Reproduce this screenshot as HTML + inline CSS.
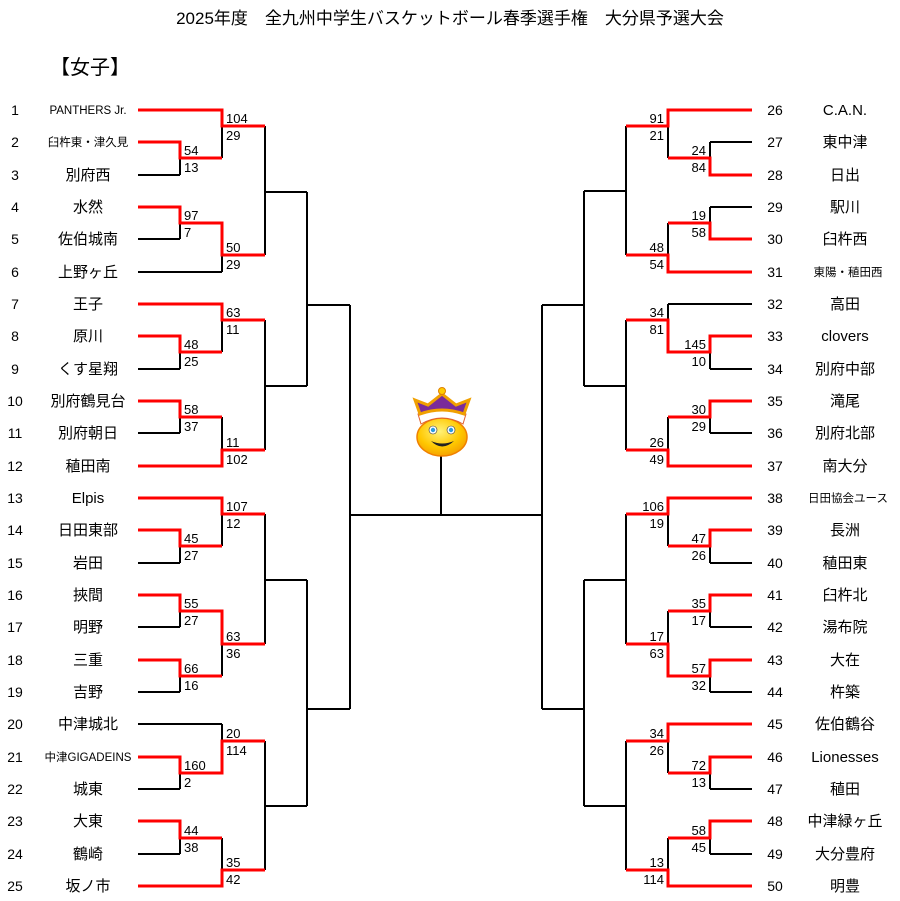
<!DOCTYPE html>
<html><head><meta charset="utf-8"><style>
html,body{margin:0;padding:0;background:#fff;}
svg{display:block;font-family:"Liberation Sans","Noto Sans CJK JP",sans-serif;}
.n{font-size:14px;text-anchor:middle;}
.t{font-size:15px;text-anchor:middle;}
.s{font-size:11.5px;text-anchor:middle;}
.l{font-size:13px;}
.r{font-size:13px;text-anchor:end;}
</style></head><body>
<svg width="900" height="901" viewBox="0 0 900 901">
<text x="450" y="24" font-size="17" text-anchor="middle">2025年度　全九州中学生バスケットボール春季選手権　大分県予選大会</text>
<text x="50" y="74" font-size="20">【女子】</text>

<g fill="none" stroke="#000" stroke-width="2">
<path d="M180 142V175M222 110V158M180 207V239M222 223V272M265 126V255M265 192H307M180 336V369M222 304V352M180 401V433M222 417V466M265 320V450M265 386H307M307 192V386M307 305H350M180 530V563M222 498V546M180 595V627M180 660V692M222 611V676M265 514V644M265 580H307M180 757V789M222 724V773M180 821V854M222 838V886M265 741V870M265 806H307M307 580V806M307 709H350M350 305V709M350 515H542M542 305V709M441 455V515"/>
<path d="M138 175H180M138 239H180M138 272H222M138 369H180M138 433H180M138 563H180M138 627H180M138 692H180M138 724H222M138 789H180M138 854H180"/>
<path d="M710 142V175M668 110V158M710 207V239M668 223V272M626 126V255M626 191H584M710 336V369M668 304V352M710 401V433M668 417V466M626 320V450M626 386H584M584 191V386M584 305H542M710 530V563M668 498V546M710 595V627M710 660V692M668 611V676M626 514V644M626 580H584M710 757V789M668 724V773M710 821V854M668 838V886M626 741V870M626 806H584M584 580V806M584 709H542"/>
<path d="M752 142H710M752 207H710M752 304H668M752 369H710M752 433H710M752 563H710M752 627H710M752 692H710M752 789H710M752 854H710"/>
</g>
<g fill="none" stroke="#f00" stroke-width="3">
<path d="M138 110H222V126H265M138 142H180V158H222M138 207H180V223H222V255H265M138 304H222V320H265M138 336H180V352H222M138 401H180V417H222M138 466H222V450H265M138 498H222V514H265M138 530H180V546H222M138 595H180V611H222V644H265M138 660H180V676H222M138 757H180V773H222V741H265M138 821H180V838H222M138 886H222V870H265"/>
<path d="M752 110H668V126H626M752 175H710V158H668M752 239H710V223H668M752 272H668V255H626M752 336H710V352H668V320H626M752 401H710V417H668M752 466H668V450H626M752 498H668V514H626M752 530H710V546H668M752 595H710V611H668M752 660H710V676H668V644H626M752 724H668V741H626M752 757H710V773H668M752 821H710V838H668M752 886H668V870H626"/>
</g>

<g class="l">
<text x="184" y="155">54</text><text x="184" y="172">13</text>
<text x="226" y="123">104</text><text x="226" y="140">29</text>
<text x="184" y="220">97</text><text x="184" y="237">7</text>
<text x="226" y="252">50</text><text x="226" y="269">29</text>
<text x="184" y="349">48</text><text x="184" y="366">25</text>
<text x="226" y="317">63</text><text x="226" y="334">11</text>
<text x="184" y="414">58</text><text x="184" y="431">37</text>
<text x="226" y="447">11</text><text x="226" y="464">102</text>
<text x="184" y="543">45</text><text x="184" y="560">27</text>
<text x="226" y="511">107</text><text x="226" y="528">12</text>
<text x="184" y="608">55</text><text x="184" y="625">27</text>
<text x="184" y="673">66</text><text x="184" y="690">16</text>
<text x="226" y="641">63</text><text x="226" y="658">36</text>
<text x="184" y="770">160</text><text x="184" y="787">2</text>
<text x="226" y="738">20</text><text x="226" y="755">114</text>
<text x="184" y="835">44</text><text x="184" y="852">38</text>
<text x="226" y="867">35</text><text x="226" y="884">42</text>
</g>
<g class="r">
<text x="706" y="155">24</text><text x="706" y="172">84</text>
<text x="664" y="123">91</text><text x="664" y="140">21</text>
<text x="706" y="220">19</text><text x="706" y="237">58</text>
<text x="664" y="252">48</text><text x="664" y="269">54</text>
<text x="706" y="349">145</text><text x="706" y="366">10</text>
<text x="664" y="317">34</text><text x="664" y="334">81</text>
<text x="706" y="414">30</text><text x="706" y="431">29</text>
<text x="664" y="447">26</text><text x="664" y="464">49</text>
<text x="706" y="543">47</text><text x="706" y="560">26</text>
<text x="664" y="511">106</text><text x="664" y="528">19</text>
<text x="706" y="608">35</text><text x="706" y="625">17</text>
<text x="706" y="673">57</text><text x="706" y="690">32</text>
<text x="664" y="641">17</text><text x="664" y="658">63</text>
<text x="706" y="770">72</text><text x="706" y="787">13</text>
<text x="664" y="738">34</text><text x="664" y="755">26</text>
<text x="706" y="835">58</text><text x="706" y="852">45</text>
<text x="664" y="867">13</text><text x="664" y="884">114</text>
</g>

<g class="n">
<text x="15" y="115">1</text><text x="15" y="147">2</text><text x="15" y="180">3</text><text x="15" y="212">4</text><text x="15" y="244">5</text><text x="15" y="277">6</text><text x="15" y="309">7</text><text x="15" y="341">8</text><text x="15" y="374">9</text><text x="15" y="406">10</text><text x="15" y="438">11</text><text x="15" y="471">12</text><text x="15" y="503">13</text><text x="15" y="535">14</text><text x="15" y="568">15</text><text x="15" y="600">16</text><text x="15" y="632">17</text><text x="15" y="665">18</text><text x="15" y="697">19</text><text x="15" y="729">20</text><text x="15" y="762">21</text><text x="15" y="794">22</text><text x="15" y="826">23</text><text x="15" y="859">24</text><text x="15" y="891">25</text>
<text x="775" y="115">26</text><text x="775" y="147">27</text><text x="775" y="180">28</text><text x="775" y="212">29</text><text x="775" y="244">30</text><text x="775" y="277">31</text><text x="775" y="309">32</text><text x="775" y="341">33</text><text x="775" y="374">34</text><text x="775" y="406">35</text><text x="775" y="438">36</text><text x="775" y="471">37</text><text x="775" y="503">38</text><text x="775" y="535">39</text><text x="775" y="568">40</text><text x="775" y="600">41</text><text x="775" y="632">42</text><text x="775" y="665">43</text><text x="775" y="697">44</text><text x="775" y="729">45</text><text x="775" y="762">46</text><text x="775" y="794">47</text><text x="775" y="826">48</text><text x="775" y="859">49</text><text x="775" y="891">50</text>
</g>
<g class="t">
<text class="s" x="88" y="114">PANTHERS Jr.</text>
<text class="s" x="88" y="146">臼杵東・津久見</text>
<text x="88" y="180">別府西</text><text x="88" y="212">水然</text><text x="88" y="244">佐伯城南</text><text x="88" y="277">上野ヶ丘</text>
<text x="88" y="309">王子</text><text x="88" y="341">原川</text><text x="88" y="374">くす星翔</text><text x="88" y="406">別府鶴見台</text><text x="88" y="438">別府朝日</text><text x="88" y="471">稙田南</text>
<text x="88" y="503">Elpis</text><text x="88" y="535">日田東部</text><text x="88" y="568">岩田</text><text x="88" y="600">挾間</text><text x="88" y="632">明野</text><text x="88" y="665">三重</text><text x="88" y="697">吉野</text>
<text x="88" y="729">中津城北</text><text class="s" x="88" y="761">中津GIGADEINS</text><text x="88" y="794">城東</text><text x="88" y="826">大東</text><text x="88" y="859">鶴崎</text><text x="88" y="891">坂ノ市</text>
<text x="845" y="115">C.A.N.</text><text x="845" y="147">東中津</text><text x="845" y="180">日出</text><text x="845" y="212">駅川</text><text x="845" y="244">臼杵西</text><text class="s" x="848" y="276">東陽・稙田西</text>
<text x="845" y="309">高田</text><text x="845" y="341">clovers</text><text x="845" y="374">別府中部</text><text x="845" y="406">滝尾</text><text x="845" y="438">別府北部</text><text x="845" y="471">南大分</text>
<text class="s" x="848" y="502">日田協会ユース</text><text x="845" y="535">長洲</text><text x="845" y="568">稙田東</text><text x="845" y="600">臼杵北</text><text x="845" y="632">湯布院</text><text x="845" y="665">大在</text><text x="845" y="697">杵築</text>
<text x="845" y="729">佐伯鶴谷</text><text x="845" y="762">Lionesses</text><text x="845" y="794">稙田</text><text x="845" y="826">中津緑ヶ丘</text><text x="845" y="859">大分豊府</text><text x="845" y="891">明豊</text>
</g>

<defs><radialGradient id="fg" cx="0.45" cy="0.35" r="0.7"><stop offset="0" stop-color="#fff27a"/><stop offset="0.6" stop-color="#ffc800"/><stop offset="1" stop-color="#f39a00"/></radialGradient></defs>
<ellipse cx="442" cy="437" rx="25" ry="19" fill="url(#fg)" stroke="#f08000" stroke-width="1.5"/>
<path d="M418 414Q442 400 466 414L463 424Q442 412 421 424Z" fill="#fff" stroke="#e06030" stroke-width="1"/>
<path d="M415 400L428 405L442 394L456 405L469 400L464 414Q442 406 420 414Z" fill="#7a2b9a" stroke="#f0a000" stroke-width="3"/>
<circle cx="442" cy="391" r="3.5" fill="#ffcc00" stroke="#e08000"/>
<circle cx="433" cy="430" r="4" fill="#fff" stroke="#333" stroke-width="0.6"/><circle cx="433" cy="430" r="2.2" fill="#2a9ae0"/>
<circle cx="451" cy="430" r="4" fill="#fff" stroke="#333" stroke-width="0.6"/><circle cx="451" cy="430" r="2.2" fill="#2a9ae0"/>
<path d="M431 441Q442 452 454 441Q442 446 431 441Z" fill="#222"/>
</svg>
</body></html>
